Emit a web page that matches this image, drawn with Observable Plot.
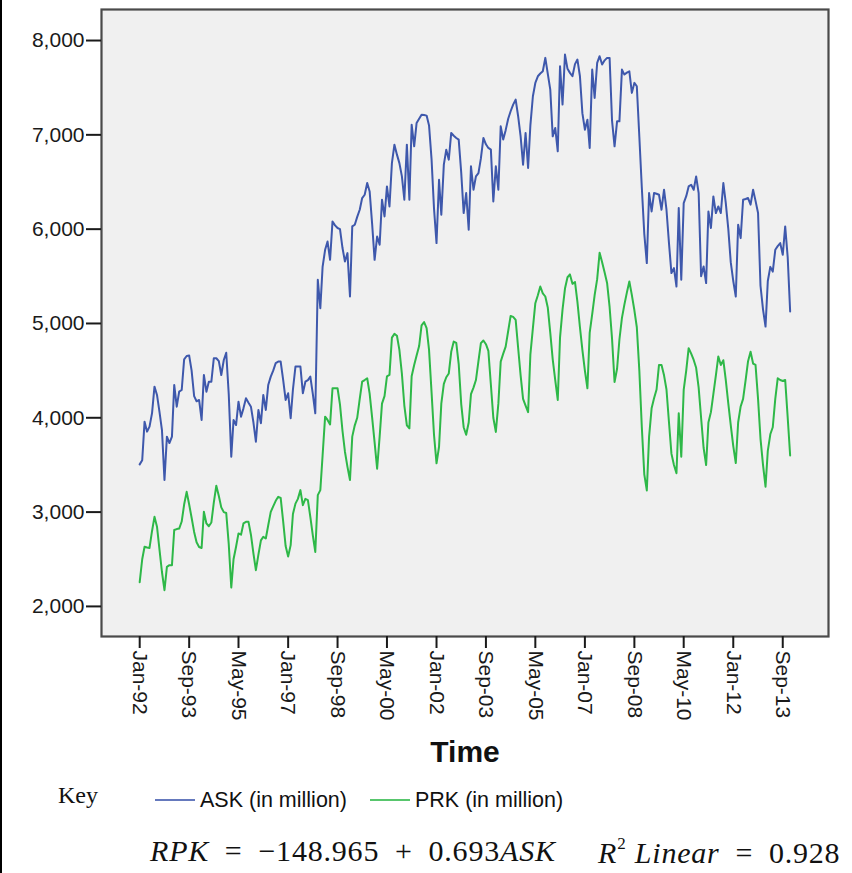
<!DOCTYPE html>
<html>
<head>
<meta charset="utf-8">
<script src="https://cdn.jsdelivr.net/npm/d3@7"></script>
<script src="https://cdn.jsdelivr.net/npm/@observablehq/plot@0.6"></script>
<style>
  body { margin: 0; background: #fff; }
  #wrap { position: relative; width: 852px; height: 873px; overflow: hidden; background: #fff; }
  #wrap::before { content: ""; position: absolute; left: 0; top: 0; bottom: 0; width: 2px; background: #000; z-index: 2; }
  #chart { position: absolute; left: 0; top: 0; }
  .abs { position: absolute; white-space: nowrap; }
  .key { font-family: "Liberation Serif", "Times New Roman", serif; font-size: 24px; color: #111; }
  .leg { font-family: "Liberation Sans", Arial, sans-serif; font-size: 21.5px; color: #111; line-height: 24px; }
  .sw { height: 2px; width: 40px; opacity: 0.8; }
  .eq { font-family: "Liberation Serif", "Times New Roman", serif; font-size: 30px; color: #111; letter-spacing: 0.8px; }
  .eq sup { font-size: 17px; vertical-align: 14px; }
</style>
</head>
<body>
<div id="wrap">
  <div id="chart"></div>
  <div id="legend"></div>
  <div class="abs eq" style="left:150px; top:834px;"><i>RPK</i>&ensp;=&ensp;&minus;148.965&ensp;+&ensp;0.693<i>ASK</i></div>
  <div class="abs eq" style="left:598px; top:834px;"><i>R</i><sup>2</sup>&nbsp;<i>Linear</i>&ensp;=&ensp;0.928</div>
</div>
<script>
// ---- data (monthly, Jan 1992 – Dec 2013) ----
const startYear = 1992;
const seriesNames = ["ASK (in million)", "PRK (in million)"];
const seriesColors = ["#3E58AC", "#2EB848"];

const askValues = [
  3506, 3550, 3959, 3853, 3906, 4050, 4330, 4242, 4060, 3870, 3340, 3800, // 1992
  3732, 3800, 4348, 4118, 4277, 4295, 4620, 4655, 4660, 4500, 4230, 4175, // 1993
  4189, 3977, 4454, 4277, 4383, 4383, 4631, 4631, 4600, 4454, 4613, 4690, // 1994
  4250, 3587, 3977, 3923, 4171, 4012, 4100, 4207, 4160, 4118, 3950, 3746, // 1995
  4083, 3942, 4242, 4083, 4348, 4436, 4500, 4580, 4596, 4596, 4400, 4189, // 1996
  4260, 3995, 4300, 4543, 4543, 4543, 4260, 4383, 4400, 4436, 4250, 4048, // 1997
  5463, 5162, 5600, 5781, 5869, 5675, 6082, 6040, 6012, 6000, 5800, 5657, // 1998
  5746, 5286, 6029, 6047, 6130, 6206, 6330, 6365, 6489, 6400, 6050, 5675, // 1999
  5922, 5834, 6312, 6135, 6453, 6241, 6700, 6896, 6790, 6700, 6559, 6312, // 2000
  6896, 6312, 7108, 6878, 7126, 7170, 7214, 7210, 7204, 7100, 6740, 6220, // 2001
  5852, 6524, 6153, 6684, 6843, 6737, 7020, 6990, 6967, 6949, 6600, 6171, // 2002
  6383, 5994, 6666, 6418, 6559, 6595, 6750, 6967, 6900, 6861, 6843, 6294, // 2003
  6666, 6418, 7090, 6950, 7050, 7170, 7250, 7320, 7374, 7200, 6984, 6684, // 2004
  7020, 6649, 7100, 7409, 7550, 7621, 7650, 7674, 7816, 7650, 7480, 6984, // 2005
  7073, 6825, 7727, 7321, 7851, 7700, 7657, 7621, 7750, 7798, 7621, 7230, // 2006
  7055, 7161, 6861, 7692, 7392, 7763, 7834, 7745, 7790, 7816, 7816, 7150, // 2007
  6878, 7143, 7143, 7692, 7639, 7660, 7674, 7445, 7551, 7515, 6980, 6450, // 2008
  5950, 5640, 6383, 6188, 6383, 6375, 6365, 6206, 6418, 6206, 5850, 5534, // 2009
  5587, 5392, 6224, 5463, 6277, 6350, 6453, 6471, 6418, 6559, 6383, 5500, // 2010
  5604, 5428, 6188, 6012, 6347, 6171, 6241, 6171, 6489, 6277, 6000, 5650, // 2011
  5450, 5286, 6047, 5905, 6312, 6320, 6330, 6260, 6418, 6300, 6171, 5400, // 2012
  5150, 4967, 5450, 5600, 5550, 5781, 5820, 5852, 5728, 6029, 5700, 5127  // 2013
];

const prkValues = [
  2257, 2500, 2632, 2625, 2620, 2800, 2950, 2845, 2600, 2365, 2172, 2420, // 1992
  2437, 2437, 2810, 2820, 2825, 2900, 3080, 3215, 3080, 2940, 2790, 2680, // 1993
  2630, 2620, 3003, 2880, 2850, 2890, 3100, 3280, 3170, 3050, 3000, 2990, // 1994
  2660, 2200, 2500, 2632, 2774, 2760, 2880, 2897, 2897, 2760, 2560, 2384, // 1995
  2550, 2700, 2738, 2720, 2860, 3003, 3060, 3120, 3162, 3150, 2900, 2640, // 1996
  2530, 2650, 2980, 3090, 3140, 3233, 3074, 3140, 3127, 2950, 2750, 2578, // 1997
  3180, 3233, 3600, 4012, 3977, 3930, 4313, 4313, 4313, 4140, 3860, 3640, // 1998
  3480, 3340, 3800, 3920, 4000, 4200, 4383, 4400, 4419, 4256, 4000, 3740, // 1999
  3460, 3800, 4150, 4230, 4440, 4454, 4850, 4890, 4870, 4720, 4465, 4130, // 2000
  3920, 3888, 4440, 4560, 4660, 4760, 4980, 5015, 4950, 4720, 4270, 3820, // 2001
  3517, 3693, 4150, 4360, 4430, 4470, 4700, 4808, 4795, 4570, 4145, 3900, // 2002
  3820, 3950, 4250, 4320, 4400, 4600, 4791, 4820, 4780, 4710, 4350, 4000, // 2003
  3850, 4150, 4596, 4680, 4755, 4920, 5080, 5070, 5038, 4745, 4450, 4200, // 2004
  4130, 4060, 4670, 4950, 5215, 5300, 5392, 5320, 5286, 5170, 4900, 4620, // 2005
  4400, 4189, 4850, 5150, 5370, 5490, 5520, 5420, 5440, 5230, 4960, 4720, // 2006
  4500, 4313, 4900, 5100, 5300, 5470, 5750, 5650, 5540, 5430, 5175, 4840, // 2007
  4380, 4520, 4830, 5060, 5200, 5330, 5445, 5300, 5140, 4960, 4500, 3910, // 2008
  3400, 3230, 3800, 4100, 4207, 4300, 4560, 4560, 4450, 4300, 3950, 3620, // 2009
  3500, 3411, 4048, 3587, 4295, 4500, 4738, 4680, 4613, 4530, 4320, 4000, // 2010
  3680, 3499, 3950, 4060, 4250, 4450, 4650, 4560, 4610, 4400, 4150, 3923, // 2011
  3700, 3520, 3950, 4120, 4200, 4400, 4600, 4700, 4575, 4560, 4200, 3780, // 2012
  3500, 3270, 3650, 3825, 3900, 4200, 4419, 4400, 4390, 4401, 4000, 3600  // 2013
];

const tickLabels = ["Jan-92", "Sep-93", "May-95", "Jan-97", "Sep-98", "May-00", "Jan-02",
                    "Sep-03", "May-05", "Jan-07", "Sep-08", "May-10", "Jan-12", "Sep-13"];
const yTicks = [2000, 3000, 4000, 5000, 6000, 7000, 8000];
const xTitle = "Time";

// ---- build tables ----
const monthDate = i => new Date(Date.UTC(startYear, i, 1));
const askData = askValues.map((v, i) => ({date: monthDate(i), value: v}));
const prkData = prkValues.map((v, i) => ({date: monthDate(i), value: v}));
const parseTick = d3.utcParse("%b-%y");
const tickDates = tickLabels.map(parseTick);

const chart = Plot.plot({
  width: 852,
  height: 775,
  marginLeft: 101,
  marginRight: 24,
  marginTop: 9,
  marginBottom: 139,
  style: {background: "transparent", fontFamily: "'Liberation Sans', Arial, sans-serif", fontSize: "21px", color: "#1a1a1a"},
  x: {type: "utc", domain: [new Date(Date.UTC(1990, 8, 18)), new Date(Date.UTC(2015, 2, 18))]},
  y: {domain: [1681, 8329]},
  marks: [
    Plot.frame({fill: "#f0f0f0"}),
    Plot.line(askData, {x: "date", y: "value", stroke: seriesColors[0], strokeWidth: 2}),
    Plot.line(prkData, {x: "date", y: "value", stroke: seriesColors[1], strokeWidth: 2}),
    Plot.frame({stroke: "#4a4a4a", strokeWidth: 2.2}),
    Plot.axisY({ticks: yTicks, tickFormat: d3.format(","), tickSize: 15, tickPadding: 2, label: null, strokeWidth: 2}),
    Plot.axisX({ticks: tickDates, tickFormat: d3.utcFormat("%b-%y"), tickRotate: 90, tickSize: 12, tickPadding: 2, label: null, strokeWidth: 2}),
    Plot.text([xTitle], {frameAnchor: "bottom", dy: 125, text: d => d, fontSize: 30, fontWeight: "bold", fill: "#111"})
  ]
});
document.getElementById("chart").appendChild(chart);

// ---- legend ----
const legend = document.getElementById("legend");
const keyEl = document.createElement("div");
keyEl.className = "abs key"; keyEl.style.left = "58px"; keyEl.style.top = "782px"; keyEl.textContent = "Key";
legend.appendChild(keyEl);
const swLeft = [155, 370], txLeft = [200, 415];
seriesNames.forEach((name, i) => {
  const sw = document.createElement("div");
  sw.className = "abs sw"; sw.style.left = swLeft[i] + "px"; sw.style.top = "799px"; sw.style.background = seriesColors[i];
  legend.appendChild(sw);
  const tx = document.createElement("div");
  tx.className = "abs leg"; tx.style.left = txLeft[i] + "px"; tx.style.top = "788px"; tx.textContent = name;
  legend.appendChild(tx);
});
</script>
</body>
</html>
